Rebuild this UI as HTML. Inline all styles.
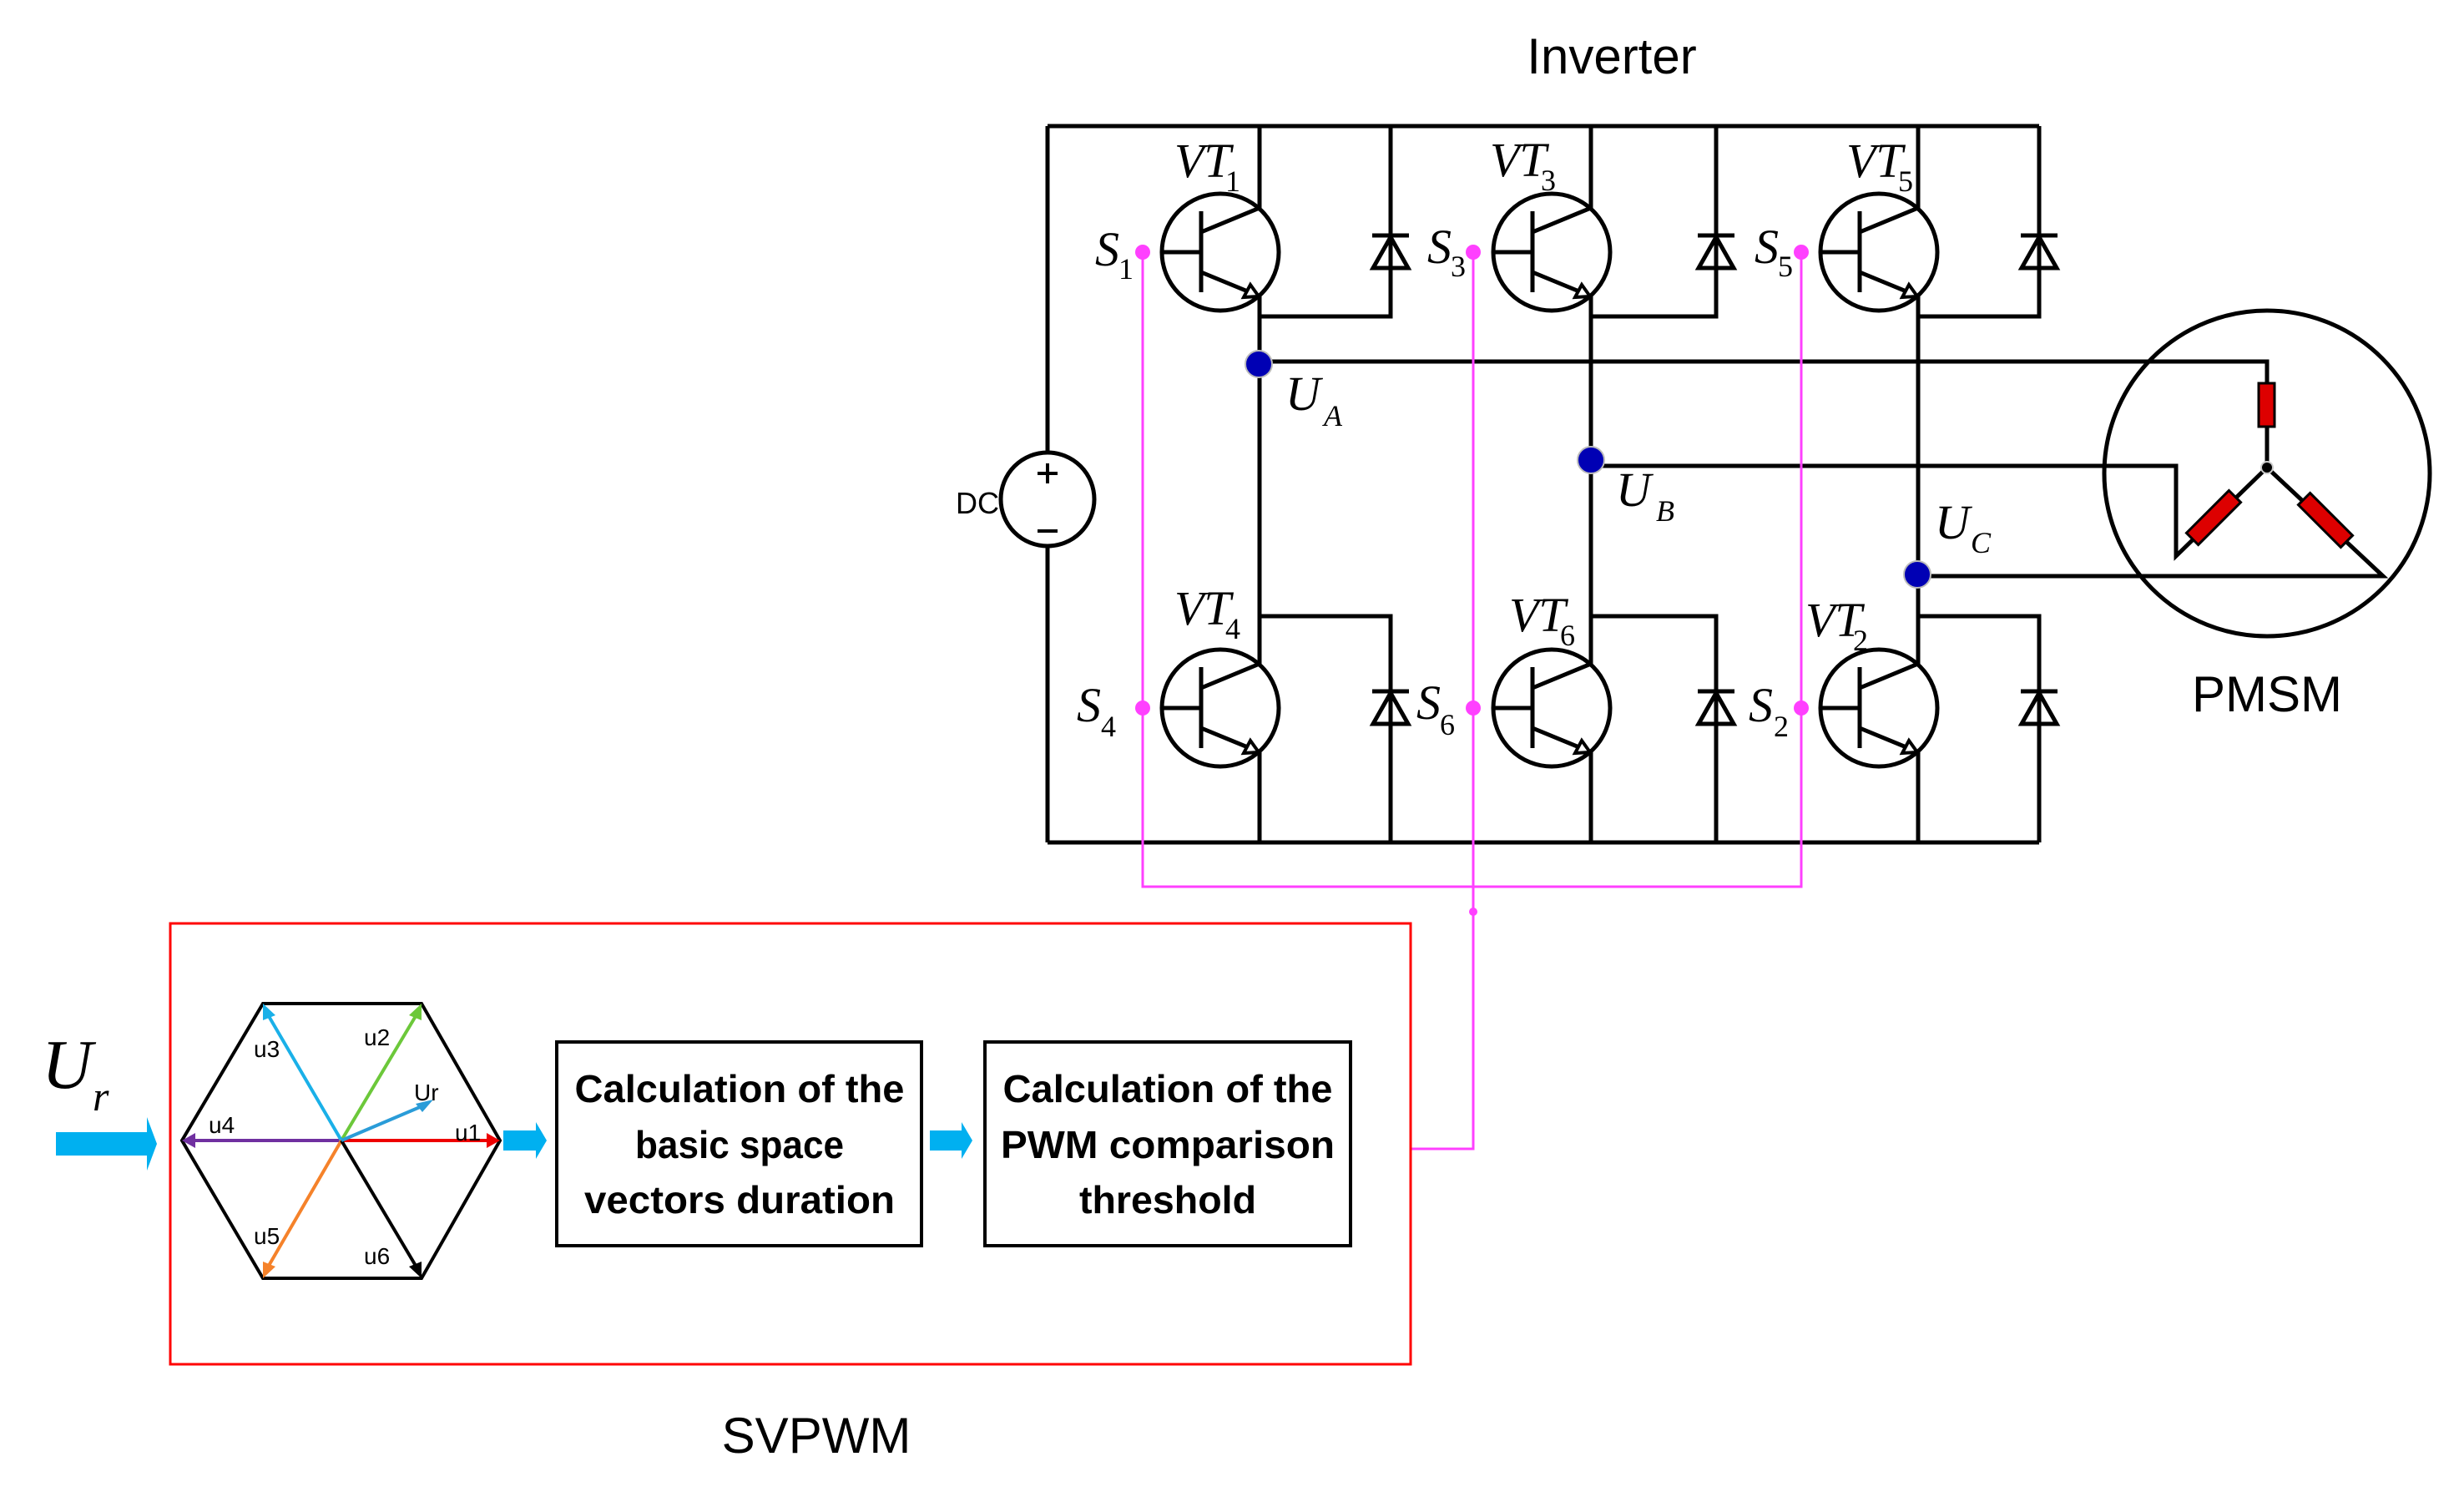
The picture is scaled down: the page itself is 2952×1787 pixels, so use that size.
<!DOCTYPE html>
<html><head><meta charset="utf-8"><style>
html,body{margin:0;padding:0;background:#fff;}
svg{display:block;}
.it{font-family:"Liberation Serif",serif;font-style:italic;fill:#000;}
.it .d{font-style:normal;}
.sn{font-family:"Liberation Sans",sans-serif;fill:#000;}
</style></head><body>
<svg width="2952" height="1787" viewBox="0 0 2952 1787" xmlns="http://www.w3.org/2000/svg">
<defs>
<g id="tr" fill="none" stroke="#000" stroke-width="5">
  <circle cx="0" cy="0" r="70"/>
  <line x1="-23" y1="-49" x2="-23" y2="48"/>
  <line x1="-70" y1="0" x2="-23" y2="0"/>
  <line x1="-23" y1="-24" x2="47" y2="-53"/>
  <line x1="-23" y1="24" x2="45" y2="52"/>
  <polygon points="46,53 28,54 36,39" stroke-width="4" fill="#fff"/>
</g>
<g id="di" fill="none" stroke="#000" stroke-width="5">
  <line x1="-22" y1="0" x2="22" y2="0"/>
  <polygon points="0,2 -21,39 21,39"/>
</g>
</defs>

<g stroke="#000" stroke-width="5" fill="none">
<line x1="1255" y1="151" x2="2443" y2="151"/>
<line x1="1255" y1="1009" x2="2443" y2="1009"/>
<line x1="1255" y1="151" x2="1255" y2="542"/>
<line x1="1255" y1="654" x2="1255" y2="1009"/>
<line x1="1509" y1="151" x2="1509" y2="249"/>
<line x1="1509" y1="355" x2="1509" y2="795"/>
<line x1="1509" y1="901" x2="1509" y2="1009"/>
<line x1="1906" y1="151" x2="1906" y2="249"/>
<line x1="1906" y1="355" x2="1906" y2="795"/>
<line x1="1906" y1="901" x2="1906" y2="1009"/>
<line x1="2298" y1="151" x2="2298" y2="249"/>
<line x1="2298" y1="355" x2="2298" y2="795"/>
<line x1="2298" y1="901" x2="2298" y2="1009"/>
<polyline points="1666,151 1666,379 1509,379"/>
<polyline points="2056,151 2056,379 1906,379"/>
<polyline points="2443,151 2443,379 2298,379"/>
<polyline points="1509,738 1666,738 1666,1009"/>
<polyline points="1906,738 2056,738 2056,1009"/>
<polyline points="2298,738 2443,738 2443,1009"/>
<polyline points="1508,433 2716,433 2716,459"/>
<line x1="2716" y1="511" x2="2716" y2="560"/>
<polyline points="1906,558 2607,558 2607,666 2716,560"/>
<polyline points="2297,690 2855,690 2716,560"/>
<circle cx="1255" cy="598" r="56"/>
<line x1="1243" y1="567" x2="1267" y2="567" stroke-width="4"/>
<line x1="1255" y1="555" x2="1255" y2="579" stroke-width="4"/>
<line x1="1243" y1="636" x2="1267" y2="636" stroke-width="4"/>
<circle cx="2716" cy="567" r="195"/>
</g>
<rect x="2706" y="459" width="19" height="52" fill="#d00" stroke="#000" stroke-width="3"/>
<rect x="-36" y="-10" width="72" height="20" fill="#d00" stroke="#000" stroke-width="3" transform="translate(2652,620) rotate(-45)"/>
<rect x="-36" y="-10" width="72" height="20" fill="#d00" stroke="#000" stroke-width="3" transform="translate(2786,623) rotate(45)"/>
<circle cx="2716" cy="560" r="7" fill="#000" stroke="#ccc" stroke-width="2"/>

<use href="#tr" x="1462" y="302"/><use href="#tr" x="1859" y="302"/><use href="#tr" x="2251" y="302"/>
<use href="#tr" x="1462" y="848"/><use href="#tr" x="1859" y="848"/><use href="#tr" x="2251" y="848"/>
<use href="#di" x="1666" y="282"/><use href="#di" x="2056" y="282"/><use href="#di" x="2443" y="282"/>
<use href="#di" x="1666" y="828"/><use href="#di" x="2056" y="828"/><use href="#di" x="2443" y="828"/>

<g stroke="#ff40ff" stroke-width="3" fill="none">
<polyline points="1369,302 1369,1062 2158,1062 2158,302"/>
<line x1="1765" y1="302" x2="1765" y2="1062"/>
<polyline points="1765,1062 1765,1376 1690,1376"/>
</g>
<g fill="#ff40ff">
<circle cx="1369" cy="302" r="9"/><circle cx="1765" cy="302" r="9"/><circle cx="2158" cy="302" r="9"/>
<circle cx="1369" cy="848" r="9"/><circle cx="1765" cy="848" r="9"/><circle cx="2158" cy="848" r="9"/>
<circle cx="1765" cy="1092" r="5"/>
</g>
<g fill="#0000b4" stroke="#bbb" stroke-width="2">
<circle cx="1508" cy="436" r="16"/><circle cx="1906" cy="551" r="16"/><circle cx="2297" cy="688" r="16"/>
</g>

<g class="it" font-size="58">
<text x="1312" y="318">S</text><text class="d" x="1340" y="334" font-size="36">1</text>
<text x="1710" y="315">S</text><text class="d" x="1738" y="331" font-size="36">3</text>
<text x="2102" y="315">S</text><text class="d" x="2130" y="331" font-size="36">5</text>
<text x="1290" y="864">S</text><text class="d" x="1319" y="882" font-size="36">4</text>
<text x="1697" y="861">S</text><text class="d" x="1725" y="880" font-size="36">6</text>
<text x="2095" y="864">S</text><text class="d" x="2125" y="882" font-size="36">2</text>
<text x="1407" y="212">VT</text><text class="d" x="1468" y="229" font-size="36">1</text>
<text x="1785" y="211">VT</text><text class="d" x="1846" y="228" font-size="36">3</text>
<text x="2212" y="212">VT</text><text class="d" x="2274" y="229" font-size="36">5</text>
<text x="1407" y="748">VT</text><text class="d" x="1468" y="765" font-size="36">4</text>
<text x="1808" y="756">VT</text><text class="d" x="1869" y="773" font-size="36">6</text>
<text x="2163" y="762">VT</text><text class="d" x="2220" y="779" font-size="36">2</text>
<text x="1540" y="491">U</text><text x="1586" y="510" font-size="36">A</text>
<text x="1936" y="606">U</text><text x="1984" y="624" font-size="36">B</text>
<text x="2318" y="645">U</text><text x="2361" y="662" font-size="36">C</text>
<text x="50" y="1303" font-size="84">U</text><text x="111" y="1330" font-size="50">r</text>
</g>
<g class="sn">
<text x="1931" y="88" font-size="60" text-anchor="middle">Inverter</text>
<text x="2716" y="852" font-size="60" text-anchor="middle">PMSM</text>
<text x="978" y="1740" font-size="60" text-anchor="middle">SVPWM</text>
<text x="1145" y="615" font-size="36">DC</text>
</g>

<rect x="204" y="1106" width="1486" height="528" fill="none" stroke="#f00" stroke-width="3"/>
<polygon points="315,1202 505,1202 599,1366 505,1531 315,1531 218,1366" fill="none" stroke="#000" stroke-width="4"/>
<g stroke-width="4" fill="none">
<line x1="409" y1="1366" x2="590" y2="1366" stroke="#e00"/>
<line x1="409" y1="1366" x2="228" y2="1366" stroke="#7030a0"/>
<line x1="409" y1="1366" x2="501" y2="1212" stroke="#6cc83a"/>
<line x1="409" y1="1366" x2="319" y2="1212" stroke="#1ab0e8"/>
<line x1="409" y1="1366" x2="319" y2="1521" stroke="#f5822a"/>
<line x1="409" y1="1366" x2="501" y2="1521" stroke="#000"/>
<line x1="409" y1="1366" x2="510" y2="1323" stroke="#2a9cd8"/>
</g>
<polygon points="599,1366 583,1357 583,1375" fill="#e00"/>
<polygon points="218,1366 234,1357 234,1375" fill="#7030a0"/>
<polygon points="505,1202 490,1216 505,1222" fill="#6cc83a"/>
<polygon points="315,1202 315,1222 330,1216" fill="#1ab0e8"/>
<polygon points="315,1531 315,1511 330,1517" fill="#f5822a"/>
<polygon points="505,1531 505,1511 490,1517" fill="#000"/>
<polygon points="519,1317 498,1322 506,1332" fill="#2a9cd8"/>
<g class="sn" font-size="28">
<text x="436" y="1252">u2</text><text x="304" y="1266">u3</text><text x="496" y="1318">Ur</text>
<text x="250" y="1357">u4</text><text x="545" y="1366">u1</text><text x="304" y="1490">u5</text><text x="436" y="1514">u6</text>
</g>
<g fill="#00b0f0">
<polygon points="67,1356 176,1356 176,1338 188,1370 176,1402 176,1384 67,1384"/>
<polygon points="603,1354 642,1354 642,1344 655,1366 642,1388 642,1378 603,1378"/>
<polygon points="1114,1354 1152,1354 1152,1344 1165,1366 1152,1388 1152,1378 1114,1378"/>
</g>
<rect x="667" y="1248" width="437" height="244" fill="none" stroke="#000" stroke-width="4"/>
<rect x="1180" y="1248" width="438" height="244" fill="none" stroke="#000" stroke-width="4"/>
<g class="sn" font-size="46" font-weight="bold" text-anchor="middle">
<text x="886" y="1320" textLength="395" lengthAdjust="spacingAndGlyphs">Calculation of the</text>
<text x="886" y="1387" textLength="250" lengthAdjust="spacingAndGlyphs">basic space</text>
<text x="886" y="1453" textLength="372" lengthAdjust="spacingAndGlyphs">vectors duration</text>
<text x="1399" y="1320" textLength="395" lengthAdjust="spacingAndGlyphs">Calculation of the</text>
<text x="1399" y="1387" textLength="400" lengthAdjust="spacingAndGlyphs">PWM comparison</text>
<text x="1399" y="1453" textLength="212" lengthAdjust="spacingAndGlyphs">threshold</text>
</g>
</svg>
</body></html>
